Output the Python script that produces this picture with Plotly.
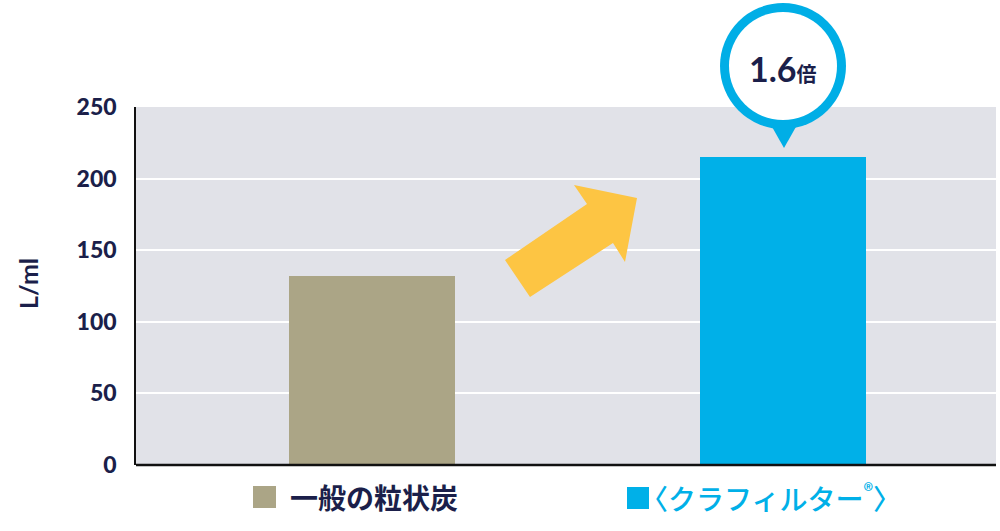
import plotly.graph_objects as go

categories = ["一般の粒状炭", "〈クラフィルター®〉"]
values = [132, 215]
bar_colors = ["#aba586", "#00b0e8"]
y_ticks = [0, 50, 100, 150, 200, 250]
y_title = "L/ml"
ratio_label = "1.6"
ratio_unit = "倍"

W, H = 1000, 531
L, R, T, B = 136, 4, 107, 66
PW, PH = W - L - R, H - T - B

def px(x):
    return (x - L) / PW

def py(y):
    return (H - B - y) / PH

NAVY = "#1b1f4a"

fig = go.Figure()
fig.add_trace(go.Bar(
    x=[0, 1], y=values, width=0.404,
    marker=dict(color=bar_colors, line=dict(width=0)),
    hoverinfo="skip", showlegend=False,
))

shapes = []
# arrow
pts = [(505, 260), (530, 297), (613, 243), (625, 262), (637, 198), (574, 185), (587, 204)]
path = "M " + " L ".join(f"{px(a):.5f},{py(b):.5f}" for a, b in pts) + " Z"
shapes.append(dict(type="path", xref="paper", yref="paper", path=path,
                   fillcolor="#fdc543", line=dict(width=0), layer="above"))
# balloon pointer
tri = [(767, 118), (801, 118), (784, 148)]
tpath = "M " + " L ".join(f"{px(a):.5f},{py(b):.5f}" for a, b in tri) + " Z"
shapes.append(dict(type="path", xref="paper", yref="paper", path=tpath,
                   fillcolor="#00aee6", line=dict(width=0), layer="above"))
cx, cy = 783, 66
for r, col in [(63, "#00aee6"), (54, "#ffffff")]:
    shapes.append(dict(type="circle", xref="paper", yref="paper",
                       x0=px(cx - r), x1=px(cx + r), y0=py(cy + r), y1=py(cy - r),
                       fillcolor=col, line=dict(width=0), layer="above"))
# bottom axis line
shapes.append(dict(type="line", xref="paper", yref="paper", x0=0, x1=1, y0=0, y1=0,
                   line=dict(color="#111111", width=2.5), layer="above"))
# label marker squares
for (x0, x1, y0, y1), col in [((253, 276, 486, 508), bar_colors[0]),
                              ((627, 649, 487, 509), bar_colors[1])]:
    shapes.append(dict(type="rect", xref="paper", yref="paper",
                       x0=px(x0), x1=px(x1), y0=py(y1), y1=py(y0),
                       fillcolor=col, line=dict(width=0), layer="above"))

CJK = "'Noto Sans CJK JP'"
annotations = [
    dict(xref="paper", yref="paper", x=px(cx), y=py(cy + 3), showarrow=False,
         text=f"<b>{ratio_label}</b><b><span style='font-size:20px'>{ratio_unit}</span></b>",
         font=dict(family=f"Lato, {CJK}", size=34, color=NAVY),
         xanchor="center", yanchor="middle"),
    dict(xref="paper", yref="paper", x=px(288), y=py(497), showarrow=False,
         text=f"<b>{categories[0]}</b>",
         font=dict(family=CJK, size=28, color=NAVY),
         xanchor="left", yanchor="middle"),
    dict(xref="paper", yref="paper", x=px(638), y=py(497), showarrow=False,
         text="〈クラフィルター<sup>®</sup>〉",
         font=dict(family=CJK, size=28, color=bar_colors[1], weight=500),
         xanchor="left", yanchor="middle"),
    dict(xref="paper", yref="paper", x=px(28), y=py(283), showarrow=False,
         text=f"<b>{y_title}</b>", textangle=-90,
         font=dict(family="Lato", size=25, color=NAVY),
         xanchor="center", yanchor="middle"),
]

fig.update_layout(
    width=W, height=H,
    margin=dict(l=L, r=R, t=T, b=B, pad=0),
    paper_bgcolor="white", plot_bgcolor="#e1e2e8",
    shapes=shapes, annotations=annotations,
    xaxis=dict(range=[-0.574, 1.518], showticklabels=False, showgrid=False,
               zeroline=False, showline=False, fixedrange=True),
    yaxis=dict(range=[0, 250], tickvals=y_ticks, showgrid=True, gridcolor="white",
               gridwidth=2, zeroline=False, showline=True, linecolor="#111111",
               linewidth=1.5, ticks="", ticklabelstandoff=13,
               tickfont=dict(family="Lato", size=23, color=NAVY, weight=900)),
    bargap=0,
)

fig.write_html("out.html", config={"displayModeBar": False},
               post_script="document.body.style.margin='0';document.body.style.padding='0';")
